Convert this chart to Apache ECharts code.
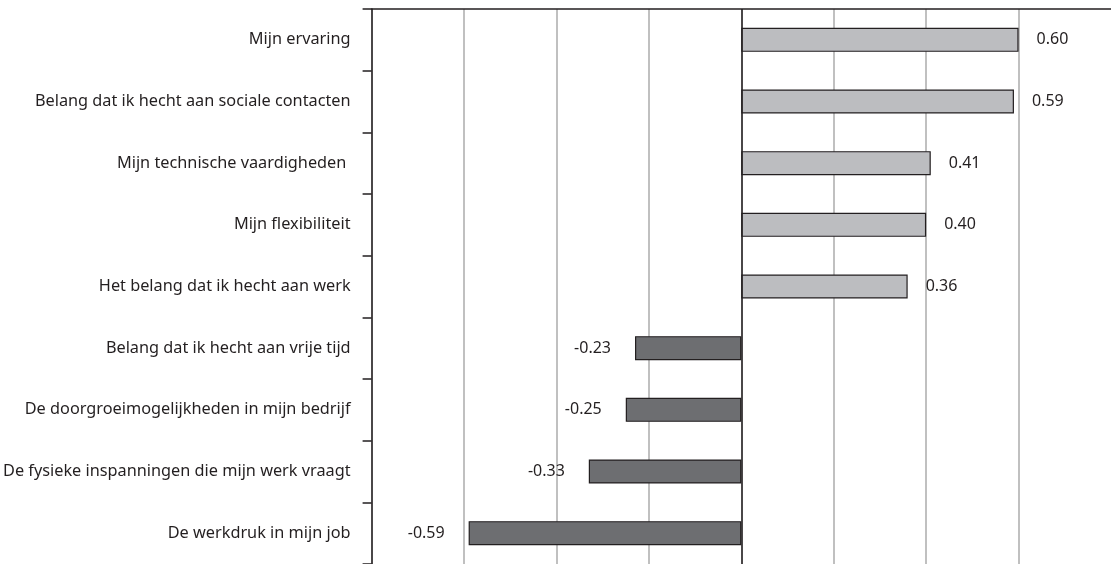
<!DOCTYPE html>
<html>
<head>
<meta charset="utf-8">
<script src="https://cdn.jsdelivr.net/npm/echarts@6/dist/echarts.min.js"></script>
<style>
  html, body { margin: 0; padding: 0; background: #fff; }
  #chart { width: 1111px; height: 564px; }
</style>
</head>
<body>
<div id="chart"></div>
<script>
var categories = [
  'Mijn ervaring',
  'Belang dat ik hecht aan sociale contacten',
  'Mijn technische vaardigheden ',
  'Mijn flexibiliteit',
  'Het belang dat ik hecht aan werk',
  'Belang dat ik hecht aan vrije tijd',
  'De doorgroeimogelijkheden in mijn bedrijf',
  'De fysieke inspanningen die mijn werk vraagt',
  'De werkdruk in mijn job'
]
var values = [0.60, 0.59, 0.41, 0.40, 0.36, -0.23, -0.25, -0.33, -0.59]
var xTicks = { min: -0.8, max: 0.8, interval: 0.2 }

var textColor = '#231f20'
var fontFamily = 'Noto Sans'

var chart = echarts.init(document.getElementById('chart'))

var barData = values.map(function(v) {
  var pos = v >= 0
  return {
    value: v,
    itemStyle: {
      color: pos ? '#bcbdc0' : '#6d6e71'
    },
    label: {
      position: pos ? 'right' : 'left',
      distance: pos ? 18 : 24
    }
  }
})

chart.setOption({
  animation: false,
  grid: {
    left: 371,
    right: 0,
    top: 9,
    height: 559
  },
  xAxis: {
    type: 'value',
    position: 'top',
    min: xTicks.min,
    max: xTicks.max,
    interval: xTicks.interval,
    axisLine: { show: true, lineStyle: { color: '#231f20', width: 1.5 } },
    axisTick: { show: false },
    axisLabel: { show: false },
    splitLine: { show: true, showMaxLine: false, lineStyle: { color: '#ababab', width: 1.5 } }
  },
  yAxis: {
    type: 'category',
    inverse: true,
    data: categories,
    axisLine: { show: true, onZero: false, lineStyle: { color: '#231f20', width: 1.5 } },
    axisTick: { show: true, length: 9, lineStyle: { color: '#231f20', width: 1.5 } },
    axisLabel: {
      margin: 21,
      color: textColor,
      fontFamily: fontFamily,
      fontSize: 16.3
    }
  },
  series: [{
    type: 'bar',
    data: barData,
    barWidth: 24,
    itemStyle: {
      borderColor: '#231f20',
      borderWidth: 1.2
    },
    label: {
      show: true,
      color: textColor,
      fontFamily: fontFamily,
      fontSize: 16,
      formatter: function(p) { return p.value.toFixed(2) }
    },
    markLine: {
      silent: true,
      symbol: 'none',
      label: { show: false },
      lineStyle: { color: '#231f20', width: 1.5, type: 'solid' },
      data: [{ xAxis: 0 }]
    }
  }]
})
</script>
</body>
</html>
